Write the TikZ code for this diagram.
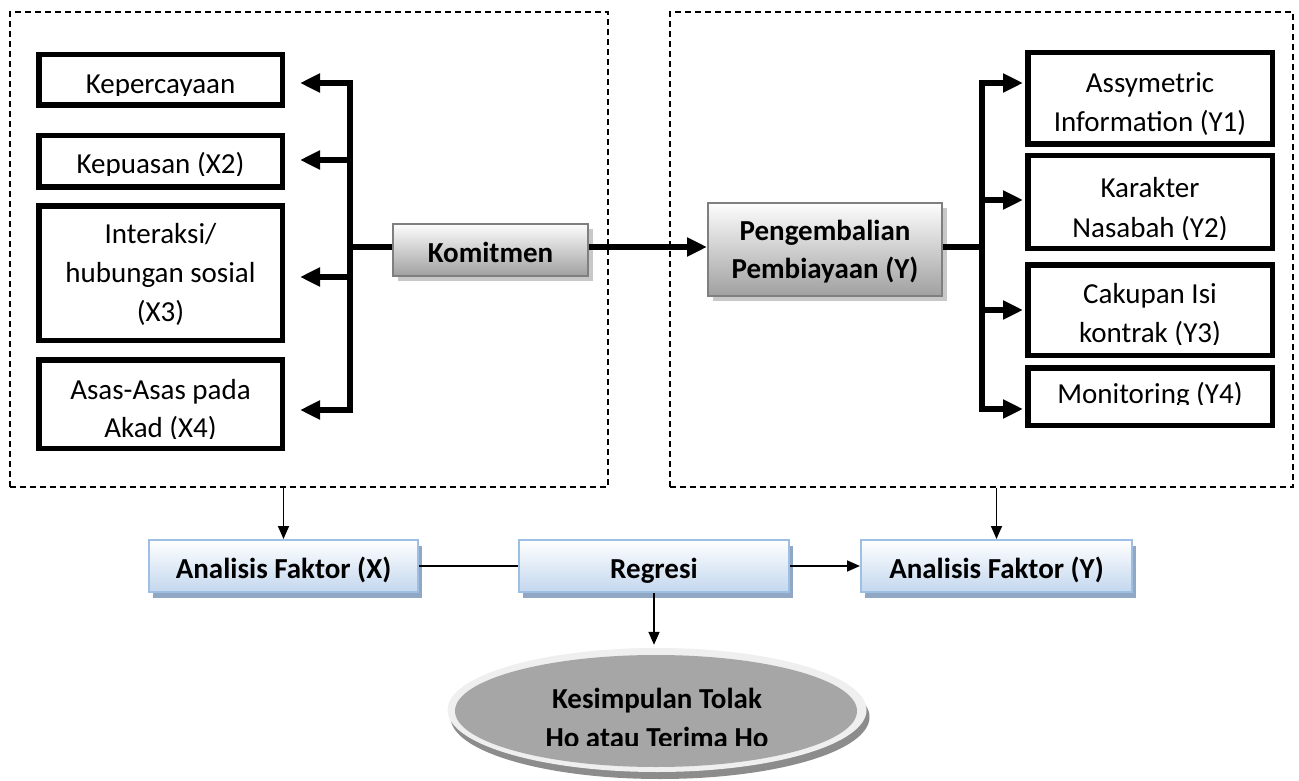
\documentclass[tikz,border=0pt]{standalone}
\usepackage{fontspec}
\setmainfont{Carlito}
\usetikzlibrary{arrows.meta,shapes.geometric,shadows,calc}
\definecolor{grayTop}{HTML}{FDFDFD}
\definecolor{grayBot}{HTML}{A0A0A0}
\definecolor{grayBorder}{HTML}{7F7F7F}
\definecolor{grayShadow}{HTML}{C8C8C8}
\definecolor{blueBot}{HTML}{C3D7EE}
\definecolor{blueBorder}{HTML}{9DBFE4}
\definecolor{blueShadow}{HTML}{90A8C3}
\definecolor{ellRim}{HTML}{EFEFEF}
\definecolor{ellFill}{HTML}{A6A6A6}
\definecolor{ellShadow}{HTML}{8C8C8C}
\begin{document}
\begin{tikzpicture}[x=1pt,y=-1pt,
  txt/.style={font=\fontsize{29}{39}\selectfont, inner sep=0pt, anchor=base},
  btxt/.style={font=\bfseries\fontsize{29}{39}\selectfont, inner sep=0pt, anchor=base},
  varbox/.style={draw=black, line width=5.5pt, fill=white, inner sep=0pt},
  grpbox/.style={draw=black, line width=1.3pt, dash pattern=on 6pt off 4pt, inner sep=0pt},
  graybox/.style={draw=grayBorder, line width=2pt, top color=grayTop, bottom color=grayBot, inner sep=0pt,
    drop shadow={shadow xshift=5pt, shadow yshift=-5pt, fill=grayShadow, opacity=1}},
  bluebox/.style={draw=blueBorder, line width=2pt, top color=white, bottom color=blueBot, inner sep=0pt,
    drop shadow={shadow xshift=4pt, shadow yshift=-6pt, fill=blueShadow, opacity=1}},
  busline/.style={line width=5.5pt, line cap=rect},
  fatarrow/.style={line width=5.5pt, -{Triangle[length=20pt,width=18pt]}},
  thinarrow/.style={line width=1.6pt, -{Triangle[length=13pt,width=11pt]}},
  thinline/.style={line width=1.6pt}
]
\useasboundingbox (0,0) rectangle (1299,781);
\fill[white] (0,0) rectangle (1299,781);

% group boxes
\node[grpbox, minimum width=598pt, minimum height=475pt] (lgrp) at (309,249.5) {};
\node[grpbox, minimum width=623pt, minimum height=475pt] (rgrp) at (981.5,249.5) {};

% left variable boxes
\node[varbox, minimum width=243.5pt, minimum height=50.5pt] (kep) at (160.5,80) {};
\node[varbox, minimum width=243.5pt, minimum height=51.5pt] (kup) at (160.5,161.5) {};
\node[varbox, minimum width=243.5pt, minimum height=134.5pt] (int) at (160.5,273) {};
\node[varbox, minimum width=243.5pt, minimum height=88.5pt] (asa) at (160.5,404) {};

% right variable boxes
\node[varbox, minimum width=244.5pt, minimum height=91.5pt] (asy) at (1150,98.5) {};
\node[varbox, minimum width=244.5pt, minimum height=92.5pt] (kar) at (1150,202) {};
\node[varbox, minimum width=244.5pt, minimum height=90.5pt] (cak) at (1150,310) {};
\node[varbox, minimum width=244.5pt, minimum height=57.5pt] (mon) at (1150,396.5) {};

% left texts
\begin{scope}\clip (40,55) rectangle (282,96);
\node[txt] (tkep) at (160.5,94) {Kepercayaan};
\end{scope}
\begin{scope}\clip (40,136) rectangle (282,176);
\node[txt] (tkup) at (160.5,174) {Kepuasan (X2)};
\end{scope}
\node[txt] (tint1) at (160.5,243) {Interaksi/};
\node[txt] (tint2) at (160.5,282) {hubungan sosial};
\node[txt] (tint3) at (160.5,321) {(X3)};
\node[txt] (tasa1) at (160.5,399) {Asas-Asas pada};
\begin{scope}\clip (40,405) rectangle (282,438);
\node[txt] (tasa2) at (160.5,437) {Akad (X4)};
\end{scope}

% right texts
\node[txt] (tasy1) at (1150,93) {Assymetric};
\begin{scope}\clip (1030,100) rectangle (1272,137);
\node[txt] (tasy2) at (1150,132) {Information (Y1)};
\end{scope}
\node[txt] (tkar1) at (1150,197) {Karakter};
\begin{scope}\clip (1030,205) rectangle (1272,239);
\node[txt] (tkar2) at (1150,237) {Nasabah (Y2)};
\end{scope}
\node[txt] (tcak1) at (1150,303) {Cakupan Isi};
\begin{scope}\clip (1030,310) rectangle (1272,344);
\node[txt] (tcak2) at (1150,342) {kontrak (Y3)};
\end{scope}
\begin{scope}\clip (1030,368) rectangle (1272,404.5);
\node[txt] (tmon) at (1150,403) {Monitoring (Y4)};
\end{scope}

% gray boxes
\node[graybox, minimum width=195pt, minimum height=52pt] (kom) at (490.5,250) {};
\node[btxt] (tkom) at (490.5,262) {Komitmen};
\node[graybox, minimum width=234pt, minimum height=93pt] (pen) at (825,249.5) {};
\node[btxt] (tpen1) at (825,240) {Pengembalian};
\node[btxt] (tpen2) at (825,278) {Pembiayaan (Y)};

% left bus
\coordinate (lt) at (350,83);
\coordinate (l2) at (350,160);
\coordinate (lm) at (350,247);
\coordinate (l3) at (350,277);
\coordinate (lb) at (350,410);
\draw[busline] (lt) -- (lb);
\draw[fatarrow, shorten >=15pt] (lt) -- (lt -| kep.east);
\draw[fatarrow, shorten >=15pt] (l2) -- (l2 -| kup.east);
\draw[fatarrow, shorten >=15pt] (l3) -- (l3 -| int.east);
\draw[fatarrow, shorten >=15pt] (lb) -- (lb -| asa.east);
\draw[line width=5.5pt] (lm) -- (lm -| kom.west);

% Komitmen -> Pengembalian
\draw[fatarrow] (kom.east |- lm) -- (pen.west |- lm);

% right bus
\coordinate (rt) at (982,83);
\coordinate (r2) at (982,200);
\coordinate (rm) at (982,247);
\coordinate (r3) at (982,310);
\coordinate (rb) at (982,409);
\draw[busline] (rt) -- (rb);
\draw[line width=5.5pt] (pen.east |- rm) -- (rm);
\draw[fatarrow, shorten >=2pt] (rt) -- (rt -| asy.west);
\draw[fatarrow, shorten >=2pt] (r2) -- (r2 -| kar.west);
\draw[fatarrow, shorten >=2pt] (r3) -- (r3 -| cak.west);
\draw[fatarrow, shorten >=2pt] (rb) -- (rb -| mon.west);

% bottom blue boxes
\node[bluebox, minimum width=269pt, minimum height=52pt] (ax) at (283.5,566) {};
\node[btxt] (tax) at (283.5,578) {Analisis Faktor (X)};
\node[bluebox, minimum width=270pt, minimum height=52pt] (rg) at (654,566) {};
\node[btxt] (trg) at (654,578) {Regresi};
\node[bluebox, minimum width=271pt, minimum height=52pt] (ay) at (996.5,566) {};
\node[btxt] (tay) at (996.5,578) {Analisis Faktor (Y)};

% ellipse
\node[ellipse, fill=ellRim, minimum width=419pt, minimum height=124pt, inner sep=0pt,
  drop shadow={shadow xshift=3pt, shadow yshift=-7pt, fill=ellShadow, opacity=1}] (ellout) at (657,710) {};
\node[ellipse, fill=ellFill, minimum width=402pt, minimum height=112pt, inner sep=0pt] (ell) at (656,711) {};
\node[btxt] (tell1) at (657,708) {Kesimpulan Tolak};
\begin{scope}\clip (460,715) rectangle (860,745);
\node[btxt] (tell2) at (657,747) {Ho atau Terima Ho};
\end{scope}

% bottom connectors
\draw[thinarrow] (ax.north |- lgrp.south) -- (ax.north);
\draw[thinarrow] (ay.north |- rgrp.south) -- (ay.north);
\draw[thinline] (ax.east) -- (rg.west);
\draw[thinarrow] (rg.east) -- (ay.west);
\draw[thinarrow, shorten >=3pt] (rg.south) -- (rg.south |- ellout.north);
\end{tikzpicture}
\end{document}
